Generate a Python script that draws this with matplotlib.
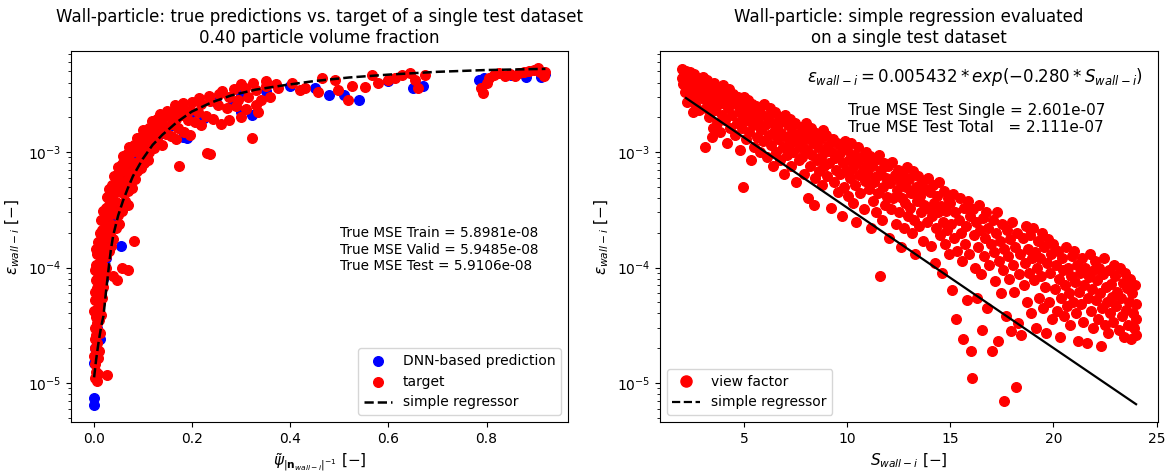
import matplotlib
matplotlib.use("Agg")
import matplotlib.pyplot as plt
from matplotlib.lines import Line2D
import numpy as np

# ---------------- left panel: DNN predictions vs. target ----------------
target_x = [
    0.002, 0.006, 0.004, 0.009, 0.028, 0.003,
    0.001, 0.005, 0.008, 0.003, 0.007, 0.011, 0.002,
    0.005, 0.009, 0.013, 0.002, 0.007, 0.011, 0.004, 0.015,
    0.001, 0.006, 0.010, 0.014, 0.003, 0.008, 0.017, 0.012,
    0.002, 0.006, 0.010, 0.015, 0.019, 0.004, 0.008, 0.013, 0.018, 0.003, 0.022,
    0.048, 0.058, 0.071, 0.040, 0.025,
    0.005, 0.010, 0.015, 0.020, 0.026, 0.007, 0.012, 0.018, 0.024, 0.031, 0.004, 0.036,
    0.009, 0.015, 0.021, 0.027, 0.033, 0.040, 0.012, 0.018, 0.024, 0.030, 0.037, 0.045, 0.083, 0.052,
    0.016, 0.022, 0.028, 0.035, 0.042, 0.050, 0.058, 0.020, 0.026, 0.032, 0.039, 0.046, 0.054, 0.063, 0.071,
    0.027, 0.034, 0.041, 0.048, 0.055, 0.062, 0.070, 0.078, 0.032, 0.038, 0.045, 0.052, 0.060, 0.068, 0.076, 0.085,
    0.042, 0.049, 0.056, 0.064, 0.072, 0.080, 0.089, 0.097, 0.050, 0.058, 0.066, 0.075, 0.084, 0.093, 0.102, 0.110,
    0.060, 0.068, 0.077, 0.086, 0.095, 0.104, 0.113, 0.122, 0.073, 0.082, 0.091, 0.100, 0.110, 0.120, 0.130, 0.140, 0.173,
    0.088, 0.098, 0.108, 0.118, 0.128, 0.138, 0.148, 0.158, 0.168, 0.100, 0.112, 0.124, 0.136, 0.148, 0.160, 0.172,
    0.185, 0.197, 0.230, 0.236, 0.322,
    0.118, 0.130, 0.142, 0.155, 0.168, 0.180, 0.193, 0.206, 0.219, 0.135, 0.150, 0.165, 0.180, 0.196, 0.212, 0.228,
    0.244, 0.260, 0.275, 0.300, 0.335,
    0.165, 0.182, 0.200, 0.218, 0.236, 0.254, 0.272, 0.290, 0.310, 0.330, 0.215, 0.235, 0.255, 0.275, 0.295, 0.315,
    0.340, 0.360,
    0.262, 0.285, 0.308, 0.330, 0.352, 0.375, 0.300, 0.325, 0.350, 0.372,
    0.404, 0.420, 0.430, 0.457, 0.465, 0.491, 0.497, 0.518, 0.526, 0.552, 0.566, 0.579, 0.600, 0.613, 0.627,
    0.644, 0.654, 0.660, 0.674,
    0.788, 0.792, 0.800, 0.806, 0.816, 0.826, 0.837, 0.847, 0.857, 0.867, 0.877, 0.887, 0.897, 0.908, 0.918,
    0.920, 0.904,
]
target_y = [
    1.1e-5, 1.05e-5, 1.25e-5, 1.2e-5, 1.17e-5, 1.45e-5,
    1.7e-5, 1.8e-5, 1.65e-5, 2.0e-5, 2.2e-5, 1.9e-5, 2.4e-5,
    2.6e-5, 2.8e-5, 2.7e-5, 3.0e-5, 3.3e-5, 3.5e-5, 3.7e-5, 3.9e-5,
    4.2e-5, 4.4e-5, 4.6e-5, 4.9e-5, 5.2e-5, 5.5e-5, 5.4e-5, 5.8e-5,
    6.2e-5, 6.6e-5, 7.0e-5, 7.3e-5, 6.8e-5, 7.8e-5, 8.3e-5, 8.8e-5, 9.2e-5, 9.5e-5, 8.6e-5,
    7.8e-5, 1.0e-4, 9.5e-5, 8.5e-5, 1.0e-4,
    1.05e-4, 1.1e-4, 1.15e-4, 1.2e-4, 1.25e-4, 1.3e-4, 1.4e-4, 1.45e-4, 1.5e-4, 1.4e-4, 1.45e-4, 1.55e-4,
    1.65e-4, 1.75e-4, 1.8e-4, 1.85e-4, 1.9e-4, 1.75e-4, 2.0e-4, 2.1e-4, 2.2e-4, 2.3e-4, 2.35e-4, 2.2e-4, 1.7e-4, 2.4e-4,
    2.6e-4, 2.7e-4, 2.8e-4, 2.9e-4, 3.0e-4, 2.85e-4, 3.1e-4, 3.1e-4, 3.3e-4, 3.5e-4, 3.6e-4, 3.7e-4, 3.5e-4, 3.8e-4, 3.5e-4,
    4.1e-4, 4.3e-4, 4.4e-4, 4.6e-4, 4.5e-4, 4.8e-4, 4.6e-4, 4.9e-4, 4.8e-4, 5.2e-4, 5.4e-4, 5.6e-4, 5.5e-4, 5.8e-4, 5.6e-4, 5.9e-4,
    6.2e-4, 6.5e-4, 6.7e-4, 6.9e-4, 6.6e-4, 7.0e-4, 6.8e-4, 7.3e-4, 7.4e-4, 7.8e-4, 8.1e-4, 8.3e-4, 7.9e-4, 8.4e-4, 8.0e-4, 8.6e-4,
    9.2e-4, 9.6e-4, 1.0e-3, 1.02e-3, 9.8e-4, 1.05e-3, 1.0e-3, 1.08e-3, 1.1e-3, 1.15e-3, 1.2e-3, 1.18e-3, 1.24e-3, 1.2e-3, 1.26e-3, 1.15e-3, 7.5e-4,
    1.32e-3, 1.38e-3, 1.42e-3, 1.47e-3, 1.4e-3, 1.5e-3, 1.44e-3, 1.38e-3, 1.3e-3, 1.55e-3, 1.62e-3, 1.68e-3, 1.72e-3, 1.65e-3, 1.75e-3, 1.6e-3,
    1.5e-3, 1.4e-3, 9.8e-4, 9.6e-4, 1.32e-3,
    1.85e-3, 1.92e-3, 1.98e-3, 2.05e-3, 1.95e-3, 2.1e-3, 1.9e-3, 1.82e-3, 1.72e-3, 2.15e-3, 2.25e-3, 2.3e-3, 2.4e-3, 2.3e-3, 2.2e-3, 2.05e-3,
    1.95e-3, 1.75e-3, 1.9e-3, 2.0e-3, 2.2e-3,
    2.55e-3, 2.65e-3, 2.7e-3, 2.6e-3, 2.75e-3, 2.55e-3, 2.4e-3, 2.5e-3, 2.35e-3, 2.55e-3, 2.95e-3, 3.05e-3, 3.15e-3, 3.0e-3, 2.85e-3, 3.0e-3,
    2.85e-3, 3.0e-3,
    3.4e-3, 3.5e-3, 3.6e-3, 3.45e-3, 3.7e-3, 3.55e-3, 3.85e-3, 3.95e-3, 4.1e-3, 3.9e-3,
    3.96e-3, 3.44e-3, 3.6e-3, 3.3e-3, 4.4e-3, 4.2e-3, 3.44e-3, 2.82e-3, 3.7e-3, 3.65e-3, 4.64e-3, 3.96e-3, 4.2e-3, 4.4e-3, 4.64e-3,
    4.85e-3, 4.2e-3, 3.6e-3, 4.64e-3,
    3.6e-3, 3.25e-3, 3.96e-3, 4.4e-3, 4.64e-3, 4.85e-3, 4.55e-3, 4.75e-3, 4.55e-3, 4.85e-3, 4.95e-3, 5.05e-3, 5.15e-3, 4.95e-3, 4.55e-3,
    4.95e-3, 5.33e-3,
]

pred_x = [
    0.001, 0.001, 0.001, 0.014, 0.055, 0.183, 0.190, 0.224, 0.284, 0.300, 0.322,
    0.480, 0.510, 0.540, 0.650, 0.670, 0.785, 0.795, 0.880, 0.910, 0.920,
    0.003, 0.006, 0.010, 0.015, 0.020, 0.025, 0.030, 0.040, 0.050, 0.060, 0.070, 0.080,
    0.090, 0.100, 0.120, 0.140, 0.160, 0.200, 0.250, 0.300, 0.350, 0.400, 0.450, 0.600, 0.850,
]
pred_y = [
    7.4e-6, 6.5e-6, 1.48e-5, 2.4e-5, 1.54e-4, 1.35e-3, 1.32e-3, 1.97e-3, 2.65e-3, 2.2e-3, 2.1e-3,
    3.1e-3, 3.1e-3, 2.8e-3, 3.6e-3, 3.7e-3, 4.2e-3, 4.4e-3, 4.5e-3, 4.5e-3, 4.7e-3,
    2.0e-5, 3.0e-5, 4.5e-5, 6.0e-5, 8.0e-5, 1.2e-4, 1.8e-4, 2.6e-4, 3.5e-4, 4.6e-4, 5.8e-4, 7.0e-4,
    8.5e-4, 9.5e-4, 1.2e-3, 1.45e-3, 1.7e-3, 2.2e-3, 2.7e-3, 3.1e-3, 3.4e-3, 3.7e-3, 3.6e-3, 4.1e-3, 4.6e-3,
]

# simple regressor curve in the psi-tilde coordinate
reg_psi = [0.001, 0.005, 0.01, 0.015, 0.02, 0.025, 0.03, 0.035, 0.04, 0.05, 0.06, 0.07, 0.08,
           0.10, 0.12, 0.14, 0.17, 0.20, 0.24, 0.28, 0.33, 0.39, 0.45, 0.52, 0.60, 0.70, 0.80, 0.92]
reg_eps = [1.12e-5, 1.58e-5, 2.24e-5, 3.02e-5, 3.80e-5, 6.03e-5, 9.33e-5, 1.41e-4, 1.91e-4,
           2.82e-4, 3.80e-4, 4.90e-4, 6.17e-4, 8.71e-4, 1.15e-3, 1.41e-3, 1.82e-3, 2.24e-3,
           2.69e-3, 3.09e-3, 3.47e-3, 3.80e-3, 4.12e-3, 4.42e-3, 4.68e-3, 4.95e-3, 5.13e-3, 5.25e-3]

mse_lines_left = ["True MSE Train = 5.8981e-08",
                  "True MSE Valid = 5.9485e-08",
                  "True MSE Test = 5.9106e-08"]

# ---------------- right panel: view factor vs. distance ----------------
# (S_wall-i, view factor) pairs of the single test dataset
view_points = [
    (2.00, 5.2e-3), (2.10, 4.6e-3), (2.05, 3.9e-3), (2.20, 5.0e-3), (2.15, 3.3e-3), (2.30, 4.3e-3),
    (2.35, 3.6e-3), (2.40, 4.9e-3), (2.45, 2.9e-3), (2.50, 4.1e-3), (2.55, 3.4e-3), (2.60, 4.7e-3),
    (2.65, 2.6e-3), (2.70, 3.8e-3), (2.75, 4.4e-3), (2.80, 3.1e-3), (2.85, 2.3e-3), (2.90, 4.0e-3),
    (2.95, 3.5e-3), (2.25, 2.7e-3), (2.00, 4.4e-3), (2.55, 2.2e-3),
    (3.00, 4.5e-3), (3.05, 2.9e-3), (3.10, 3.7e-3), (3.10, 1.1e-3), (3.15, 2.4e-3), (3.20, 4.2e-3),
    (3.25, 3.2e-3), (3.30, 2.0e-3), (3.35, 3.9e-3), (3.40, 2.7e-3), (3.45, 1.35e-3), (3.50, 3.5e-3),
    (3.55, 4.0e-3), (3.60, 2.3e-3), (3.65, 3.0e-3), (3.70, 1.8e-3), (3.75, 3.6e-3), (3.80, 2.6e-3),
    (3.85, 1.5e-3), (3.90, 3.3e-3), (3.95, 2.1e-3), (3.50, 1.6e-3),
    (4.00, 3.8e-3), (4.05, 2.8e-3), (4.10, 1.9e-3), (4.15, 3.3e-3), (4.20, 1.2e-3), (4.25, 2.4e-3),
    (4.30, 3.5e-3), (4.35, 1.6e-3), (4.40, 2.9e-3), (4.45, 2.1e-3), (4.50, 3.2e-3), (4.55, 1.4e-3),
    (4.60, 2.6e-3), (4.65, 1.8e-3), (4.70, 3.0e-3), (4.75, 2.2e-3), (4.80, 1.05e-3), (4.85, 2.7e-3),
    (4.90, 1.6e-3), (4.95, 2.0e-3), (4.95, 5.0e-4),
    (5.00, 3.0e-3), (5.05, 2.4e-3), (5.10, 1.3e-3), (5.15, 1.9e-3), (5.20, 2.8e-3), (5.25, 1.5e-3),
    (5.30, 2.2e-3), (5.35, 8.5e-4), (5.40, 2.6e-3), (5.45, 1.7e-3), (5.50, 1.1e-3), (5.55, 2.0e-3),
    (5.60, 2.5e-3), (5.65, 1.35e-3), (5.70, 1.8e-3), (5.75, 2.3e-3), (5.80, 1.0e-3), (5.85, 1.55e-3),
    (5.90, 2.1e-3), (5.95, 1.25e-3),
    (6.00, 2.6e-3), (6.05, 1.7e-3), (6.10, 9.0e-4), (6.15, 2.0e-3), (6.20, 1.4e-3), (6.25, 2.4e-3),
    (6.30, 1.15e-3), (6.35, 1.8e-3), (6.40, 7.5e-4), (6.45, 1.5e-3), (6.50, 2.2e-3), (6.55, 1.0e-3),
    (6.60, 1.65e-3), (6.65, 1.3e-3), (6.70, 2.0e-3), (6.75, 8.5e-4), (6.80, 1.45e-3), (6.85, 1.85e-3),
    (6.90, 1.1e-3), (6.95, 6.5e-4),
    (7.00, 2.1e-3), (7.05, 1.35e-3), (7.10, 9.5e-4), (7.15, 1.7e-3), (7.20, 1.15e-3), (7.25, 1.95e-3),
    (7.30, 7.5e-4), (7.35, 1.5e-3), (7.40, 1.0e-3), (7.45, 1.25e-3), (7.50, 1.8e-3), (7.55, 5.5e-4),
    (7.60, 1.4e-3), (7.65, 8.5e-4), (7.70, 1.1e-3), (7.75, 1.65e-3), (7.80, 9.0e-4), (7.85, 1.25e-3),
    (7.90, 6.5e-4), (7.95, 1.5e-3),
    (8.00, 1.8e-3), (8.05, 1.05e-3), (8.10, 4.0e-4), (8.15, 1.35e-3), (8.20, 7.5e-4), (8.25, 1.6e-3),
    (8.30, 9.5e-4), (8.35, 1.2e-3), (8.40, 3.5e-4), (8.45, 6.0e-4), (8.50, 1.45e-3), (8.55, 8.5e-4),
    (8.60, 1.1e-3), (8.65, 6.8e-4), (8.70, 1.3e-3), (8.75, 9.0e-4), (8.80, 5.2e-4), (8.85, 1.55e-3),
    (8.90, 7.6e-4), (8.95, 1.0e-3),
    (9.00, 1.4e-3), (9.05, 6.2e-4), (9.10, 1.15e-3), (9.15, 8.0e-4), (9.20, 3.3e-4), (9.25, 1.0e-3),
    (9.30, 1.3e-3), (9.35, 5.5e-4), (9.40, 8.8e-4), (9.45, 7.0e-4), (9.50, 1.2e-3), (9.55, 4.5e-4),
    (9.60, 9.5e-4), (9.65, 6.4e-4), (9.70, 1.1e-3), (9.75, 2.8e-4), (9.80, 8.0e-4), (9.85, 5.0e-4),
    (9.90, 1.25e-3), (9.95, 6.8e-4),
    (10.00, 1.05e-3), (10.05, 4.2e-4), (10.10, 8.5e-4), (10.15, 6.0e-4), (10.20, 1.2e-3), (10.25, 7.2e-4),
    (10.30, 3.6e-4), (10.35, 9.5e-4), (10.40, 5.2e-4), (10.45, 2.5e-4), (10.50, 8.0e-4), (10.55, 1.1e-3),
    (10.60, 6.3e-4), (10.65, 4.4e-4), (10.70, 9.0e-4), (10.75, 7.0e-4), (10.80, 3.2e-4), (10.85, 5.6e-4),
    (10.90, 1.0e-3), (10.95, 7.8e-4),
    (11.00, 6.5e-4), (11.05, 4.8e-4), (11.10, 9.2e-4), (11.15, 2.2e-4), (11.20, 7.5e-4), (11.25, 3.8e-4),
    (11.30, 5.5e-4), (11.35, 8.5e-4), (11.40, 3.0e-4), (11.45, 6.2e-4), (11.50, 4.4e-4), (11.55, 9.5e-4),
    (11.60, 8.5e-5), (11.65, 7.0e-4), (11.70, 2.6e-4), (11.75, 5.0e-4), (11.80, 8.0e-4), (11.85, 3.5e-4),
    (11.90, 6.0e-4), (11.95, 4.1e-4),
    (12.00, 7.5e-4), (12.05, 1.8e-4), (12.10, 5.4e-4), (12.15, 3.2e-4), (12.20, 8.2e-4), (12.25, 4.0e-4),
    (12.30, 6.3e-4), (12.35, 2.4e-4), (12.40, 4.7e-4), (12.45, 7.0e-4), (12.50, 3.0e-4), (12.55, 5.6e-4),
    (12.60, 1.5e-4), (12.65, 4.0e-4), (12.70, 6.5e-4), (12.75, 2.2e-4), (12.80, 3.6e-4), (12.85, 5.0e-4),
    (12.90, 7.4e-4), (12.95, 2.8e-4),
    (13.00, 5.8e-4), (13.05, 3.3e-4), (13.10, 4.4e-4), (13.15, 2.0e-4), (13.20, 6.8e-4), (13.25, 2.6e-4),
    (13.30, 1.3e-4), (13.35, 5.0e-4), (13.40, 3.8e-4), (13.45, 6.2e-4), (13.50, 2.3e-4), (13.55, 4.2e-4),
    (13.60, 3.0e-4), (13.65, 5.4e-4), (13.70, 1.7e-4), (13.75, 3.5e-4), (13.80, 4.8e-4), (13.85, 2.5e-4),
    (13.90, 6.0e-4), (13.95, 3.2e-4),
    (14.00, 4.5e-4), (14.05, 1.55e-4), (14.10, 2.8e-4), (14.15, 5.2e-4), (14.20, 3.6e-4), (14.25, 1.1e-4),
    (14.30, 2.2e-4), (14.35, 4.2e-4), (14.40, 3.0e-4), (14.45, 5.5e-4), (14.50, 1.9e-4), (14.55, 3.4e-4),
    (14.60, 9.0e-5), (14.65, 2.5e-4), (14.70, 4.6e-4), (14.75, 1.6e-4), (14.80, 3.1e-4), (14.85, 2.1e-4),
    (14.90, 4.0e-4), (14.95, 1.3e-4),
    (15.00, 3.6e-4), (15.05, 2.4e-4), (15.10, 6.4e-5), (15.15, 4.3e-4), (15.20, 1.8e-4), (15.25, 3.0e-4),
    (15.30, 3.6e-5), (15.35, 1.4e-4), (15.40, 2.6e-4), (15.45, 4.0e-4), (15.50, 2.0e-4), (15.55, 1.15e-4),
    (15.60, 2.4e-5), (15.65, 3.3e-4), (15.70, 1.6e-4), (15.75, 2.3e-4), (15.80, 5.2e-5), (15.85, 3.8e-4),
    (15.90, 1.3e-4), (15.95, 2.8e-4),
    (16.00, 1.9e-5), (16.05, 1.1e-5), (16.10, 3.2e-4), (16.15, 1.9e-4), (16.20, 1.0e-4), (16.25, 2.5e-4),
    (16.30, 5.5e-5), (16.35, 1.5e-4), (16.40, 3.5e-4), (16.45, 2.1e-4), (16.50, 8.8e-5), (16.55, 2.9e-5),
    (16.60, 2.7e-4), (16.65, 1.25e-4), (16.70, 1.8e-4), (16.75, 3.0e-4), (16.80, 4.5e-5), (16.85, 2.2e-4),
    (16.90, 1.05e-4), (16.95, 1.6e-4),
    (17.00, 1.9e-5), (17.05, 2.6e-4), (17.10, 1.35e-4), (17.15, 7.6e-5), (17.20, 2.0e-4), (17.25, 3.0e-4),
    (17.30, 2.3e-5), (17.35, 1.15e-4), (17.40, 1.7e-4), (17.45, 6.0e-5), (17.50, 2.4e-4), (17.55, 9.5e-5),
    (17.58, 7.0e-6), (17.60, 1.45e-4), (17.70, 3.8e-5), (17.75, 2.1e-4), (17.80, 1.25e-4), (17.85, 8.0e-5),
    (17.90, 1.75e-4), (17.95, 2.8e-5),
    (18.00, 2.5e-4), (18.05, 1.05e-4), (18.10, 6.2e-5), (18.15, 1.5e-4), (18.19, 9.3e-6), (18.25, 2.0e-4),
    (18.30, 3.3e-5), (18.35, 8.8e-5), (18.40, 1.3e-4), (18.45, 2.6e-5), (18.50, 1.8e-4), (18.55, 7.0e-5),
    (18.60, 1.1e-4), (18.65, 2.3e-4), (18.70, 5.0e-5), (18.75, 1.45e-4), (18.80, 9.0e-5), (18.85, 1.9e-4),
    (18.90, 4.0e-5), (18.95, 1.2e-4),
    (19.00, 2.2e-4), (19.05, 7.8e-5), (19.10, 1.35e-4), (19.15, 3.0e-5), (19.20, 1.0e-4), (19.25, 1.7e-4),
    (19.30, 5.5e-5), (19.35, 1.2e-4), (19.40, 8.5e-5), (19.45, 2.0e-4), (19.50, 4.5e-5), (19.55, 1.5e-4),
    (19.60, 6.8e-5), (19.65, 2.7e-5), (19.70, 1.1e-4), (19.75, 1.75e-4), (19.80, 5.0e-5), (19.85, 9.0e-5),
    (19.90, 1.3e-4), (19.95, 3.6e-5),
    (20.00, 1.6e-4), (20.05, 6.5e-5), (20.10, 1.05e-4), (20.15, 4.2e-5), (20.20, 1.4e-4), (20.25, 8.0e-5),
    (20.30, 2.5e-5), (20.35, 5.5e-5), (20.40, 1.2e-4), (20.45, 9.5e-5), (20.50, 3.8e-5), (20.55, 7.0e-5),
    (20.60, 1.5e-4), (20.65, 4.6e-5), (20.70, 1.0e-4), (20.75, 6.0e-5), (20.80, 3.2e-5), (20.85, 8.5e-5),
    (20.90, 1.25e-4), (20.95, 5.0e-5),
    (21.00, 1.4e-4), (21.05, 7.5e-5), (21.10, 4.0e-5), (21.15, 1.05e-4), (21.20, 2.3e-5), (21.25, 6.2e-5),
    (21.30, 9.0e-5), (21.35, 4.8e-5), (21.40, 1.2e-4), (21.45, 3.4e-5), (21.50, 7.0e-5), (21.55, 1.0e-4),
    (21.60, 2.2e-5), (21.65, 5.5e-5), (21.70, 8.2e-5), (21.75, 1.3e-4), (21.80, 4.2e-5), (21.85, 6.5e-5),
    (21.90, 3.0e-5), (21.95, 9.5e-5),
    (22.00, 1.15e-4), (22.05, 5.2e-5), (22.10, 7.8e-5), (22.15, 3.6e-5), (22.20, 1.0e-4), (22.25, 6.0e-5),
    (22.30, 2.1e-5), (22.35, 4.5e-5), (22.40, 8.8e-5), (22.45, 1.2e-4), (22.50, 3.2e-5), (22.55, 6.8e-5),
    (22.60, 5.0e-5), (22.65, 2.7e-5), (22.70, 9.5e-5), (22.75, 4.0e-5), (22.80, 7.2e-5), (22.85, 5.6e-5),
    (22.90, 3.4e-5), (22.95, 1.05e-4),
    (23.00, 8.5e-5), (23.05, 4.6e-5), (23.10, 6.2e-5), (23.15, 2.9e-5), (23.20, 1.0e-4), (23.25, 5.4e-5),
    (23.30, 3.8e-5), (23.35, 7.4e-5), (23.40, 2.5e-5), (23.45, 9.0e-5), (23.50, 4.3e-5), (23.55, 6.6e-5),
    (23.60, 3.2e-5), (23.65, 5.0e-5), (23.70, 8.0e-5), (23.75, 2.4e-5), (23.80, 6.0e-5), (23.85, 4.0e-5),
    (23.90, 3.0e-5), (23.95, 7.0e-5), (24.00, 4.8e-5), (24.00, 3.6e-5), (24.00, 2.6e-5),
]
view_S = [p[0] for p in view_points]
view_eps = [p[1] for p in view_points]

# fitted model: eps = A * exp(B * S)
fit_A = 0.005432
fit_B = -0.280
fit_S_range = [2.2, 24.0]

mse_lines_right = ["True MSE Test Single = 2.601e-07",
                   "True MSE Test Total   = 2.111e-07"]

# ---------------- figure ----------------
fig = plt.figure(figsize=(11.70, 4.72), dpi=100)
ax1 = fig.add_axes([0.0607, 0.106, 0.4248, 0.786])
ax2 = fig.add_axes([0.5641, 0.106, 0.4256, 0.786])

ms = 48
ax1.scatter(pred_x, pred_y, s=ms, color="blue", label="DNN-based prediction", zorder=2)
ax1.scatter(target_x, target_y, s=ms, color="red", label="target", zorder=3)
ax1.plot(reg_psi, reg_eps, "k--", lw=1.8, label="simple regressor", zorder=4)
ax1.set_yscale("log")
ax1.set_xlim(-0.046, 0.966)
ax1.set_ylim(4.6e-6, 7.5e-3)
ax1.set_xticks([0.0, 0.2, 0.4, 0.6, 0.8])
ax1.set_xlabel(r"$\tilde{\psi}_{|\mathbf{n}_{wall-i}|^{-1}}$ $[-]$", fontsize=11)
ax1.set_ylabel(r"$\varepsilon_{wall-i}$ $[-]$", fontsize=11)
ax1.set_title("Wall-particle: true predictions vs. target of a single test dataset\n"
              "0.40 particle volume fraction", fontsize=12)
ax1.text(0.541, 0.527, "\n".join(mse_lines_left), transform=ax1.transAxes,
         fontsize=9.8, va="top", ha="left", linespacing=1.2)
ax1.legend(loc="lower right", fontsize=10)

ax2.scatter(view_S, view_eps, s=ms, color="red", zorder=2)
fit_S = np.array(fit_S_range)
ax2.plot(fit_S, fit_A * np.exp(fit_B * fit_S), color="black", lw=1.6, zorder=3)
ax2.set_yscale("log")
ax2.set_xlim(0.94, 25.06)
ax2.set_ylim(4.6e-6, 7.5e-3)
ax2.set_xticks([5, 10, 15, 20, 25])
ax2.set_xlabel(r"$S_{wall-i}$ $[-]$", fontsize=11)
ax2.set_ylabel(r"$\varepsilon_{wall-i}$ $[-]$", fontsize=11)
ax2.set_title("Wall-particle: simple regression evaluated\non a single test dataset", fontsize=12)
ax2.text(0.97, 0.93,
         r"$\varepsilon_{wall-i} = %.6f * exp(%.3f * S_{wall-i})$" % (fit_A, fit_B),
         transform=ax2.transAxes, fontsize=12, ha="right", va="center")
ax2.text(0.378, 0.86, "\n".join(mse_lines_right), transform=ax2.transAxes,
         fontsize=11, va="top", ha="left", linespacing=1.2)
handles = [Line2D([], [], marker="o", ls="", color="red", markersize=8),
           Line2D([], [], ls="--", color="black", lw=1.6)]
ax2.legend(handles, ["view factor", "simple regressor"], loc="lower left", fontsize=10)

fig.savefig("out.png", dpi=100)
